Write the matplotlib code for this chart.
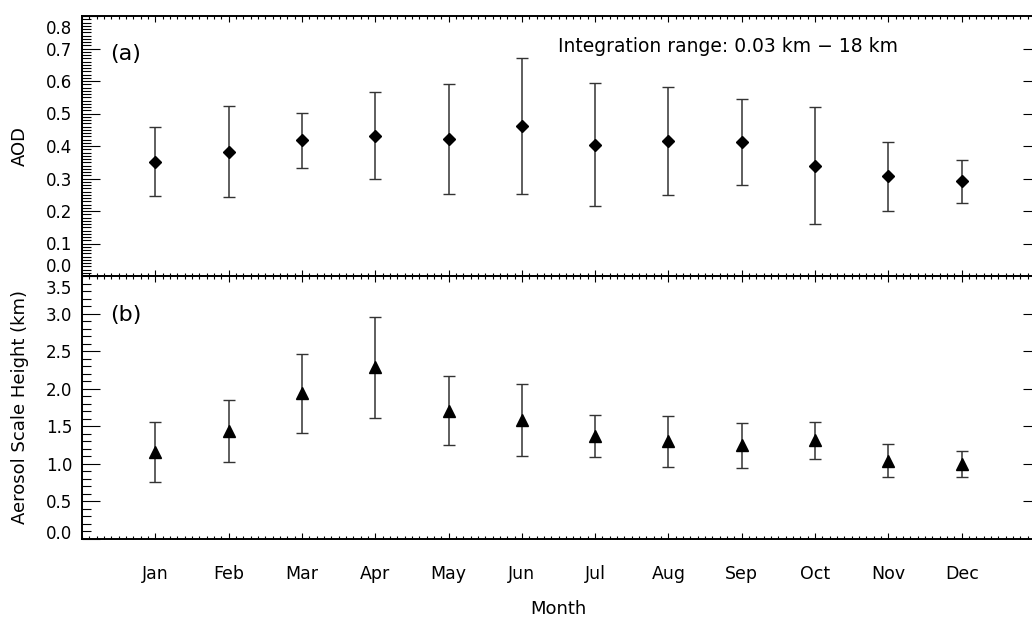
import matplotlib.pyplot as plt
import numpy as np
from matplotlib.ticker import MultipleLocator
from matplotlib.transforms import ScaledTranslation

months = ['Jan', 'Feb', 'Mar', 'Apr', 'May', 'Jun',
          'Jul', 'Aug', 'Sep', 'Oct', 'Nov', 'Dec']

# monthly mean AOD and its standard deviation
aod = [0.352, 0.383, 0.417, 0.432, 0.421, 0.461,
       0.404, 0.416, 0.412, 0.340, 0.307, 0.291]
aod_std = [0.107, 0.141, 0.085, 0.134, 0.169, 0.209,
           0.190, 0.167, 0.132, 0.181, 0.106, 0.066]

# monthly mean aerosol scale height (km) and its standard deviation
sh = [1.16, 1.434, 1.94, 2.285, 1.707, 1.583,
      1.374, 1.298, 1.245, 1.312, 1.04, 0.997]
sh_std = [0.399, 0.414, 0.528, 0.672, 0.461, 0.475,
          0.279, 0.341, 0.30, 0.248, 0.218, 0.173]

W, H = 1032, 618
fig = plt.figure(figsize=(W / 100, H / 100), dpi=100)


def box(l, t, r, b):
    # pixel box -> figure fraction
    return [l / W, 1 - b / H, (r - l) / W, (b - t) / H]


ax1 = fig.add_axes(box(82, 16, 1035, 276))
ax2 = fig.add_axes(box(82, 276, 1035, 539))

x = np.arange(1, 13)
fs = 12

for ax in (ax1, ax2):
    ax.set_xlim(0, 13)
    ax.set_xticks(x)
    ax.xaxis.set_minor_locator(MultipleLocator(0.1))
    ax.tick_params(axis='x', which='major', direction='in', top=True, bottom=True,
                   length=4.3, width=0.8)
    ax.tick_params(axis='x', which='minor', direction='in', top=True, bottom=True,
                   length=2.2, width=0.8)
    ax.tick_params(axis='y', which='major', direction='in', left=True, right=False,
                   length=13, width=0.8, pad=7, labelsize=fs)
    ax.tick_params(axis='y', which='minor', direction='in', left=True, right=False,
                   length=6.5, width=0.8)
    for s in ax.spines.values():
        s.set_linewidth(1.4)


def edge_label(ax, val, txt, va, dy):
    # end labels of the y axis, nudged inside the panel
    off = ScaledTranslation(-7 / 72, dy / 72, fig.dpi_scale_trans)
    ax.text(0, val, txt, transform=ax.get_yaxis_transform() + off,
            ha='right', va=va, fontsize=fs)


# ---- (a) AOD
ax1.set_ylim(0, 0.8)
yt1 = np.round(np.arange(0, 0.81, 0.1), 1)
ax1.set_yticks(yt1, ['' if v in (0.0, 0.8) else f'{v:.1f}' for v in yt1])
ax1.yaxis.set_minor_locator(MultipleLocator(0.01))
ax1.tick_params(axis='x', labelbottom=False)
edge_label(ax1, 0.0, '0.0', 'bottom', 0)
edge_label(ax1, 0.8, '0.8', 'top', -3)

sec1 = ax1.secondary_yaxis('right')
sec1.set_yticks(yt1[1:-1])
sec1.tick_params(direction='in', length=8.6, width=0.8, labelright=False)

ax1.errorbar(x, aod, yerr=aod_std, fmt='D', color='k', ecolor='#333333',
             elinewidth=1.1, capsize=4, capthick=1.1, ms=6.3, mew=1)
ax1.plot(x, aod, '.', color='white', ms=1.5)

ax1.text(0.029, 0.854, '(a)', transform=ax1.transAxes, fontsize=16,
         ha='left', va='center')
ax1.text(0.678, 0.881, 'Integration range: 0.03 km \u2212 18 km',
         transform=ax1.transAxes, fontsize=13.5, ha='center', va='center')
ax1.set_ylabel('AOD', fontsize=13)
ax1.yaxis.set_label_coords(-0.056, 0.5)

# ---- (b) scale height
ax2.set_ylim(0, 3.5)
yt2 = np.round(np.arange(0, 3.51, 0.5), 1)
ax2.set_yticks(yt2, ['' if v in (0.0, 3.5) else f'{v:.1f}' for v in yt2])
ax2.yaxis.set_minor_locator(MultipleLocator(0.1))
edge_label(ax2, 0.0, '0.0', 'baseline', 0)
edge_label(ax2, 3.5, '3.5', 'top', -3)

sec2 = ax2.secondary_yaxis('right')
sec2.set_yticks(yt2[1:-1])
sec2.tick_params(direction='in', length=8.6, width=0.8, labelright=False)

ax2.errorbar(x, sh, yerr=sh_std, fmt='^', color='k', ecolor='#333333',
             elinewidth=1.1, capsize=4, capthick=1.1, ms=8, mew=1)
ax2.plot(x, sh, '.', color='white', ms=1.2)

ax2.text(0.029, 0.852, '(b)', transform=ax2.transAxes, fontsize=16,
         ha='left', va='center')
ax2.set_ylabel('Aerosol Scale Height (km)', fontsize=13)
ax2.yaxis.set_label_coords(-0.056, 0.5)

ax2.set_xticks(x, months)
ax2.tick_params(axis='x', which='major', labelsize=12.5, pad=19)
ax2.set_xlabel('Month', fontsize=13, labelpad=12)

fig.savefig('out.png', dpi=100)
